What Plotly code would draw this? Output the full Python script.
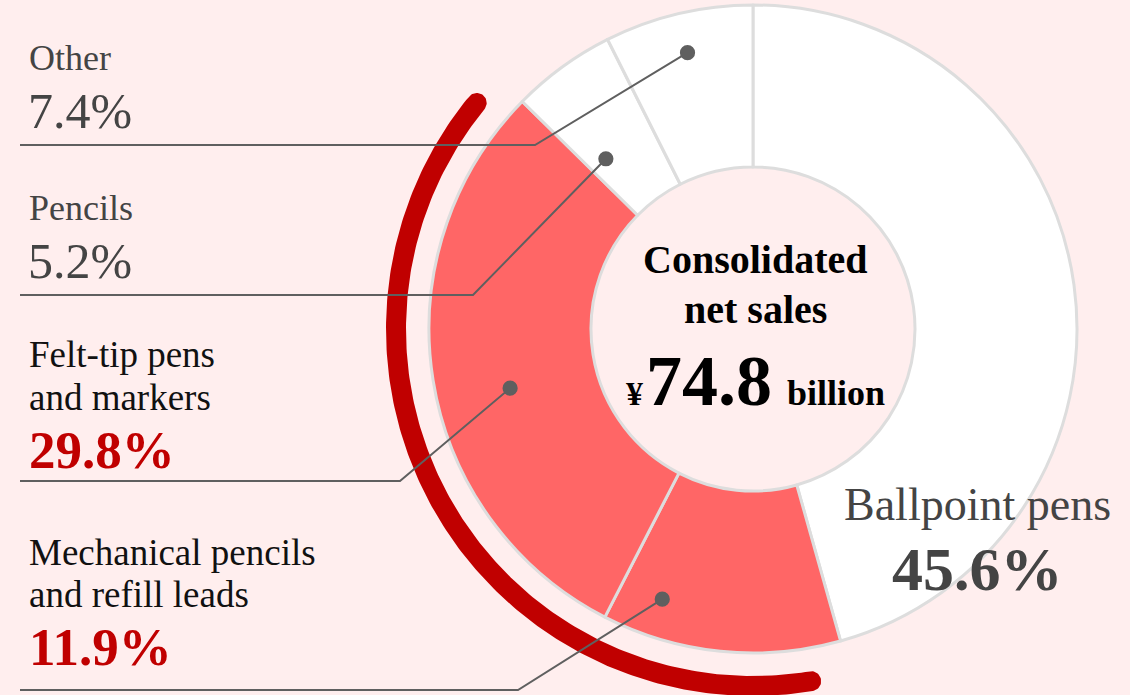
import numpy as np
import plotly.graph_objects as go

# Net sales breakdown by product category (%)
categories = ["Ballpoint pens", "Mechanical pencils and refill leads",
              "Felt-tip pens and markers", "Pencils", "Other"]
shares = [45.6, 11.9, 29.8, 5.2, 7.4]
highlight = [False, True, True, False, False]
total_sales = "74.8"

# Page geometry (pixel coordinates, y grows downward)
W, H = 1130, 695
CX, CY = 753, 329
R_OUT = 324
HOLE = 0.50

BG = "#ffeeee"
RED_SLICE = "#ff6666"
DARK_RED = "#c00000"
BORDER = "#dddddd"
GRAY_TXT = "#444444"
LEADER = "#5f5f5f"
SERIF = "Liberation Serif, Times New Roman, serif"

fig = go.Figure()

# Donut
fig.add_trace(go.Pie(
    values=shares, labels=categories, sort=False, direction="clockwise",
    rotation=0, hole=HOLE, textinfo="none", hoverinfo="label+percent",
    marker=dict(colors=[RED_SLICE if h else "white" for h in highlight],
                line=dict(color=BORDER, width=3)),
    domain=dict(x=[(CX - R_OUT) / W, (CX + R_OUT) / W],
                y=[(H - CY - R_OUT) / H, (H - CY + R_OUT) / H]),
    showlegend=False,
))

# Slice angles (degrees clockwise from 12 o'clock)
frac = np.array(shares) / sum(shares)
ends = np.cumsum(frac) * 360
starts = ends - frac * 360
mids = (starts + ends) / 2


def polar(theta_deg, rho):
    t = np.radians(theta_deg)
    return CX + rho * np.sin(t), CY - rho * np.cos(t)


# Dark red arc bracketing the highlighted segments, with rounded ends
red_idx = [i for i, h in enumerate(highlight) if h]
a0 = starts[red_idx[0]] + 6.3
a1 = ends[red_idx[-1]] - 5.3
RA, HW = 357, 10
th = np.linspace(a0, a1, 200)
xs, ys = [], []
for t in th:
    x, y = polar(t, RA + HW); xs.append(x); ys.append(y)


def cap(theta, forward):
    pts = []
    tr = np.radians(theta)
    n = np.array([np.sin(tr), -np.cos(tr)])          # outward radial
    tg = np.array([np.cos(tr), np.sin(tr)])          # direction of increasing angle
    px, py = polar(theta, RA)
    for phi in np.linspace(0, np.pi, 30):
        if forward:
            v = np.cos(phi) * n + np.sin(phi) * tg
        else:
            v = -np.cos(phi) * n - np.sin(phi) * tg
        pts.append((px + HW * v[0], py + HW * v[1]))
    return pts


for x, y in cap(a1, True):
    xs.append(x); ys.append(y)
for t in th[::-1]:
    x, y = polar(t, RA - HW); xs.append(x); ys.append(y)
for x, y in cap(a0, False):
    xs.append(x); ys.append(y)
fig.add_trace(go.Scatter(x=xs, y=ys, fill="toself", fillcolor=DARK_RED,
                         line=dict(width=0), mode="lines", hoverinfo="skip",
                         showlegend=False))

# Leader lines from each segment to its label block, drawn above the donut
# (category index, angle tweak, dot radius, elbow x, rule y)
leaders = [
    (4, 0.0, 284, 535, 145),
    (3, -4.8, 225, 473, 295),
    (2, -4.6, 250, 400, 481),
    (1, 12.8, 285, 518, 690),
]
shapes = []
DOT_R = 7.6
for idx, dth, rho, ex, ry in leaders:
    dx, dy = polar(mids[idx] + dth, rho)
    shapes.append(dict(type="path", xref="x", yref="y", layer="above",
                       path=f"M {dx:.1f} {dy:.1f} L {ex} {ry} L 20 {ry}",
                       line=dict(color=LEADER, width=2)))
    shapes.append(dict(type="circle", xref="x", yref="y", layer="above",
                       x0=dx - DOT_R, x1=dx + DOT_R, y0=dy - DOT_R, y1=dy + DOT_R,
                       fillcolor=LEADER, line=dict(width=0)))

annotations = []


def text(x, baseline, s, size, color, bold=False, xanchor="left"):
    if bold:
        s = "<b>" + s + "</b>"
    annotations.append(dict(
        x=x, y=baseline - 0.3375 * size, xref="x", yref="y", text=s,
        showarrow=False, xanchor=xanchor, yanchor="middle", borderpad=0,
        font=dict(family=SERIF, size=size, color=color)))


def pct(v):
    return f"{v:.1f}%"


# Other / Pencils
text(28, 70, "Other", 36, GRAY_TXT)
text(27, 128, pct(shares[4]), 50, GRAY_TXT)
text(28, 220, "Pencils", 36, GRAY_TXT)
text(27, 278, pct(shares[3]), 50, GRAY_TXT)
# Felt-tip pens
text(28, 367, "Felt-tip pens", 37, "#111111")
text(28, 410, "and markers", 37, "#111111")
text(28, 468, pct(shares[2]), 53, DARK_RED, bold=True)
# Mechanical pencils
text(28, 565, "Mechanical pencils", 37, "#111111")
text(28, 607, "and refill leads", 37, "#111111")
text(28, 665, pct(shares[1]), 53, DARK_RED, bold=True)
# Ballpoint pens
text(977, 520, "Ballpoint pens", 46, GRAY_TXT, xanchor="center")
text(977, 590, pct(shares[0]), 62, GRAY_TXT, bold=True, xanchor="center")

# Center caption
text(755, 273, "Consolidated", 40, "black", bold=True, xanchor="center")
text(755, 323, "net sales", 40, "black", bold=True, xanchor="center")
text(644, 405, "¥", 34, "black", bold=True, xanchor="right")
text(709, 405, total_sales, 72, "black", bold=True, xanchor="center")
text(786, 405, "billion", 36, "black", bold=True, xanchor="left")

fig.update_layout(
    width=W, height=H, margin=dict(l=0, r=0, t=0, b=0),
    paper_bgcolor=BG, plot_bgcolor="rgba(0,0,0,0)",
    xaxis=dict(range=[0, W], visible=False, fixedrange=True),
    yaxis=dict(range=[H, 0], visible=False, fixedrange=True),
    annotations=annotations, shapes=shapes,
    showlegend=False,
)

fig.write_html("out.html")
